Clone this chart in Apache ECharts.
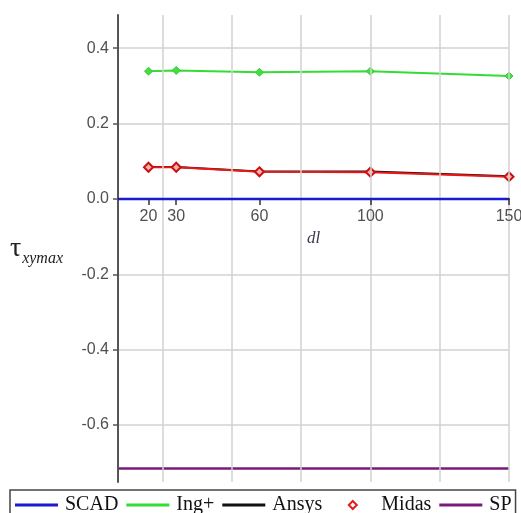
<!DOCTYPE html>
<html><head><meta charset="utf-8">
<script src="https://cdn.jsdelivr.net/npm/echarts@6/dist/echarts.min.js"></script>
<style>html,body{margin:0;padding:0;background:#fff;}#c{width:521px;height:513px;}</style>
</head><body><div id="c"></div>
<script>
const dl = [20, 30, 60, 100, 150];
const ingPlus = [0.339, 0.341, 0.336, 0.339, 0.326];
const ansys = [0.085, 0.085, 0.073, 0.073, 0.060];
const midas = [0.084, 0.084, 0.072, 0.071, 0.059];
const rangeX = [9, 150];
const scad = [0, 0];
const sp = [-0.715, -0.715];
const xTickLabels = [20, 30, 60, 100, 150];
const yTickLabels = [-0.6, -0.4, -0.2, 0.0, 0.2, 0.4];
const xGrid = [25, 50, 75, 100, 125, 150];
const yGrid = [-0.6, -0.4, -0.2, 0.2, 0.4];

const X_MIN = 9, X_MAX = 150, Y_MIN = -0.751, Y_MAX = 0.488;
const W = 521, H = 513;
const G = {left: 118, right: 12, top: 15, bottom: 31};
const plotH = H - G.top - G.bottom;
const zeroH = plotH * Y_MAX / (Y_MAX - Y_MIN);

const tickFont = '"Liberation Sans Narrow", "Liberation Sans", sans-serif';
const serif = '"Liberation Serif", "DejaVu Serif", serif';
const lineIcon = 'path://M0,0H43V3H0Z';
const diamondIcon = 'path://M-43,0M0,-8L8,0L0,8L-8,0ZM43,0';
const pair = (xs, ys) => xs.map((x, i) => [x, ys[i]]);

const chart = echarts.init(document.getElementById('c'), null, {renderer: 'canvas'});
chart.setOption({
  animation: false,
  backgroundColor: '#fff',
  grid: [
    {left: G.left, right: G.right, top: G.top, bottom: G.bottom, containLabel: false, outerBoundsMode: 'none'},
    {left: G.left, right: G.right, top: G.top, height: zeroH, containLabel: false, outerBoundsMode: 'none'}
  ],
  legend: {
    left: 10, top: 490, width: 508, orient: 'horizontal',
    itemWidth: 43, itemHeight: 8, itemGap: 8,
    padding: [5, 4, 12, 5],
    borderColor: '#444', borderWidth: 1.5, borderRadius: 0,
    selectedMode: false,
    textStyle: {fontFamily: serif, fontSize: 20, color: '#111', padding: [0, 0, 0, 2]},
    data: [
      {name: 'SCAD', icon: lineIcon, itemStyle: {color: '#1a1ad0', borderWidth: 0}},
      {name: 'Ing+', icon: lineIcon, itemStyle: {color: '#33dd33', borderWidth: 0}},
      {name: 'Ansys', icon: lineIcon, itemStyle: {color: '#111', borderWidth: 0}},
      {name: 'Midas', icon: diamondIcon, itemStyle: {color: '#fff', borderColor: '#e02020', borderWidth: 2}},
      {name: 'SP', icon: lineIcon, itemStyle: {color: '#7a1a7a', borderWidth: 0}}
    ]
  },
  xAxis: [
    {
      type: 'value', gridIndex: 0, min: X_MIN, max: X_MAX, z: 5,
      axisLine: {onZero: true, lineStyle: {color: '#333', width: 2}},
      axisTick: {show: false}, axisLabel: {show: false},
      splitLine: {show: false}
    },
    {
      type: 'value', gridIndex: 1, min: X_MIN, max: X_MAX, z: 7, position: 'bottom',
      axisLine: {show: false, onZero: false},
      axisTick: {show: true, customValues: xTickLabels, length: 6, lineStyle: {color: '#333', width: 1.5}},
      axisLabel: {customValues: xTickLabels, color: '#505050', fontFamily: tickFont, fontSize: 16, margin: 10},
      splitLine: {show: false},
      name: 'dl', nameLocation: 'middle', nameGap: 31,
      nameTextStyle: {fontFamily: serif, fontStyle: 'italic', fontSize: 17, color: '#3a3a50'}
    }
  ],
  yAxis: [
    {
      type: 'value', gridIndex: 0, min: Y_MIN, max: Y_MAX, z: 5,
      axisLine: {show: true, onZero: false, lineStyle: {color: '#555', width: 2}},
      axisTick: {show: true, customValues: yTickLabels, length: 5, lineStyle: {color: '#555', width: 1.5}},
      axisLabel: {customValues: yTickLabels, formatter: v => v.toFixed(1), color: '#505050', fontFamily: tickFont, fontSize: 16, margin: 9},
      splitLine: {show: false},
      name: '{t|τ}{s|xymax}', nameLocation: 'middle', nameRotate: 0, nameGap: 55,
      nameTextStyle: {
        rich: {
          t: {fontFamily: serif, fontSize: 28, color: '#222', lineHeight: 28, verticalAlign: 'top'},
          s: {fontFamily: serif, fontStyle: 'italic', fontSize: 16, color: '#222', lineHeight: 16, padding: [21, 0, 0, 1]}
        }
      }
    },
    {type: 'value', gridIndex: 1, min: 0, max: 1, show: false}
  ],
  series: [
    {
      name: 'grid', type: 'line', data: [], z: 1, silent: true,
      markLine: {
        silent: true, symbol: 'none', label: {show: false},
        lineStyle: {color: '#d2d2d2', width: 1.5, type: 'solid'},
        emphasis: {disabled: true},
        data: xGrid.map(v => ({xAxis: v})).concat(yGrid.map(v => ({yAxis: v})))
      }
    },
    {name: 'SCAD', type: 'line', data: pair(rangeX, scad), symbol: 'none', z: 6,
     lineStyle: {color: '#1a1ad0', width: 2.5}, itemStyle: {color: '#1a1ad0'}},
    {name: 'Ing+', type: 'line', data: pair(dl, ingPlus), symbol: 'diamond', symbolSize: 8,
     lineStyle: {color: '#33dd33', width: 2}, itemStyle: {color: '#44dd44', borderColor: '#33cc33', borderWidth: 1}},
    {name: 'Ansys', type: 'line', data: pair(dl, ansys), symbol: 'none',
     lineStyle: {color: '#111', width: 2}, itemStyle: {color: '#111'}},
    {name: 'Midas', type: 'line', data: pair(dl, midas), symbol: 'diamond', symbolSize: 9,
     lineStyle: {color: '#ee1515', width: 2}, itemStyle: {color: '#f6b0b0', borderColor: '#cc1010', borderWidth: 2}},
    {name: 'SP', type: 'line', data: pair(rangeX, sp), symbol: 'none',
     lineStyle: {color: '#7a1a7a', width: 2.5}, itemStyle: {color: '#7a1a7a'}}
  ]
});
</script></body></html>
